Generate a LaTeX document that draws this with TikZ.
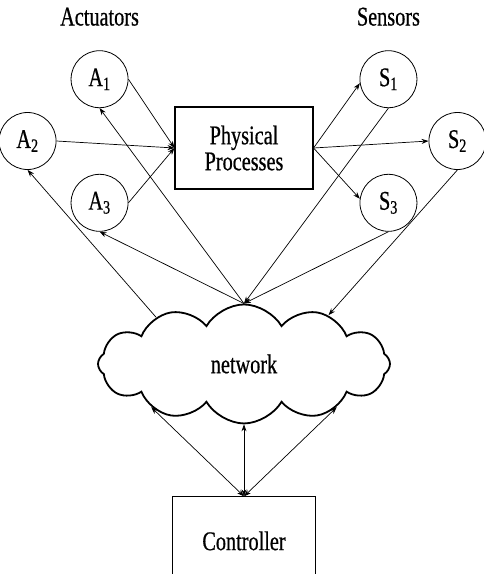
\documentclass[tikz,border=0pt]{standalone}
\usepackage{fontspec}
\setmainfont{Liberation Serif}[FakeStretch=0.75,FakeBold=0.6]
\usetikzlibrary{positioning,shapes.symbols,arrows.meta}

\tikzset{
  txt/.style={font=\fontsize{27}{26}\selectfont},
  dev/.style={circle, draw, line width=0.8pt, minimum size=57pt, inner sep=0pt, txt},
  blk/.style={rectangle, draw, line width=1.1pt, inner sep=0pt, txt, align=center},
  conn/.style={-{Stealth[length=7pt,width=5pt]}, line width=0.7pt},
  bconn/.style={{Stealth[length=7pt,width=5pt]}-{Stealth[length=7pt,width=5pt]}, line width=0.7pt},
}

\begin{document}
\begin{tikzpicture}[x=1pt, y=1pt]
\useasboundingbox (0,0) rectangle (484,-574);
% Nodes
% plant and devices
\node[blk, minimum width=138pt, minimum height=82pt](pp) at (244,-148) {Physical\\Processes};
\node[dev, left = 118pt of pp, yshift=7pt](a2){A\textsubscript{2}};
\node[dev, above = 4pt of a2, xshift=72pt](a1){A\textsubscript{1}};
\node[dev, below = 4pt of a2, xshift=72pt](a3){A\textsubscript{3}};
\node[dev, right = 115pt of pp, yshift=7pt](s2){S\textsubscript{2}};
\node[dev, above = 4pt of s2, xshift=-69pt](s1){S\textsubscript{1}};
\node[dev, below = 4pt of s2, xshift=-69pt](s3){S\textsubscript{3}};
\node[txt, above = 21pt of a1](act){Actuators};
\node[txt, above = 21pt of s1](sen){Sensors};
% network and controller
\node[cloud, draw, line width=1.8pt, cloud puffs=12, cloud puff arc=120, aspect=2.3,
      minimum width=292pt, minimum height=119pt, txt, below = 114pt of pp](net){network};
\node[blk, minimum width=143pt, minimum height=88pt, below = 72pt of net](ctrl){Controller};

\draw[conn] (a1.east) -- (pp.west);
\draw[conn] (a2.east) -- (pp.west);
\draw[conn] (a3.east) -- (pp.west);
\draw[conn] (pp.east) -- (s1.188);
\draw[conn] (pp.east) -- (s2.west);
\draw[conn] (pp.east) -- (s3.172);

\draw[conn] (net.north) -- (a1.south);
\draw[conn] (net.north) -- (a3.south);
\draw[conn] (net.152) -- (a2.south);
\draw[conn] (s1.south) -- (net.north);
\draw[conn] (s3.south) -- (net.north);
\draw[conn] (s2.south) -- (net.30);

\draw[bconn] (net.205) -- (ctrl.north);
\draw[bconn] (net.south) -- (ctrl.north);
\draw[bconn] (net.335) -- (ctrl.north);

\end{tikzpicture}
\end{document}
